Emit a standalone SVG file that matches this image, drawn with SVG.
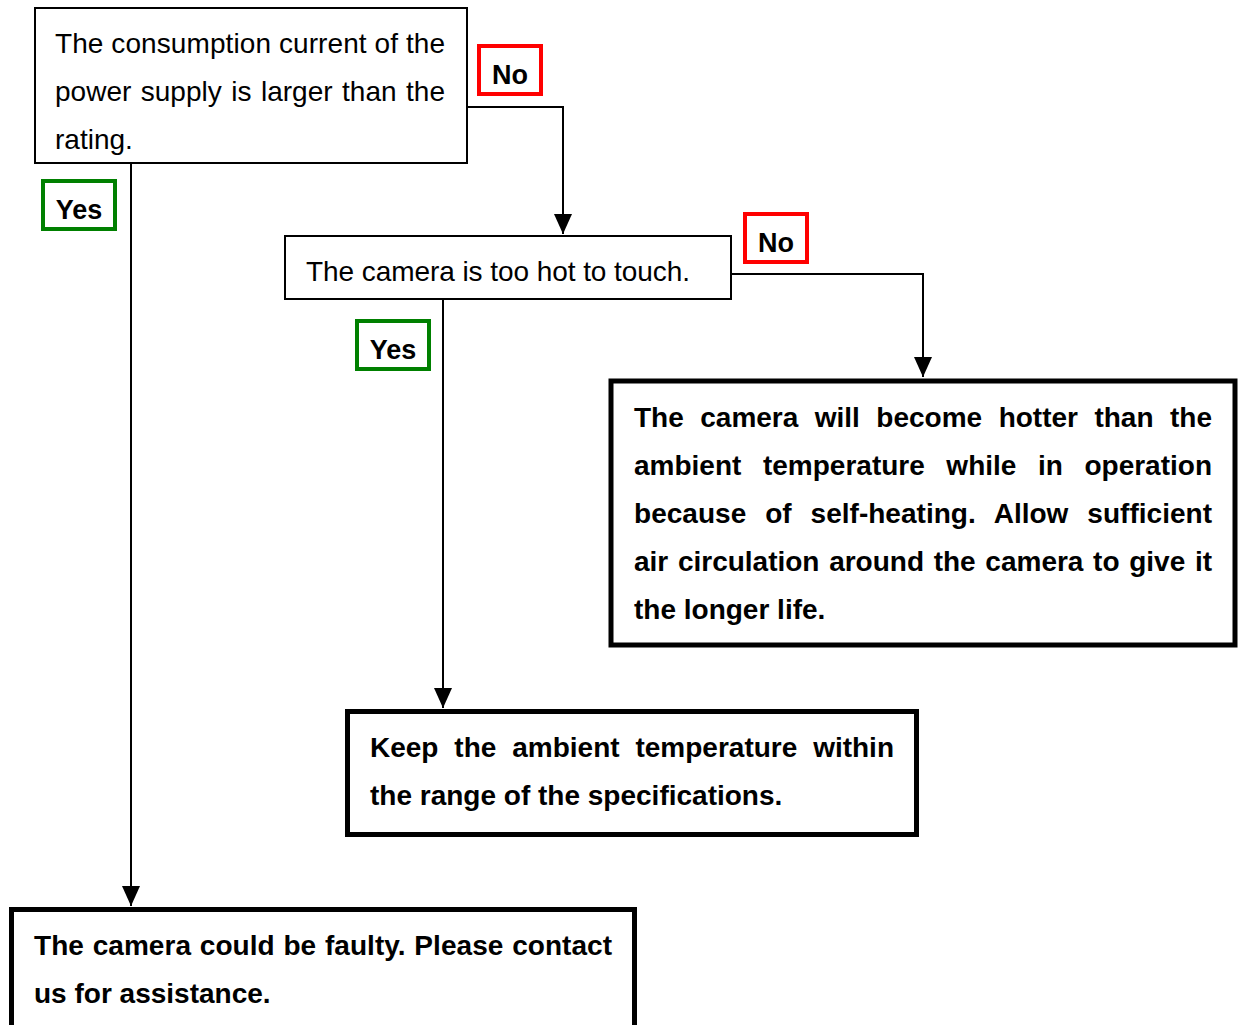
<svg xmlns="http://www.w3.org/2000/svg" width="1243" height="1025" viewBox="0 0 1243 1025">
<style>
.thin{fill:#fff;stroke:#000;stroke-width:2}
.thick{fill:#fff;stroke:#000;stroke-width:5}
.no{fill:#fff;stroke:#f00;stroke-width:4}
.yes{fill:#fff;stroke:#008000;stroke-width:4}
.t{font-family:"Liberation Sans",Arial,sans-serif;font-size:28px;fill:#000}
.b{font-family:"Liberation Sans",Arial,sans-serif;font-size:28px;font-weight:bold;fill:#000}
.lbl{font-family:"Liberation Sans",Arial,sans-serif;font-size:27px;font-weight:bold;fill:#000;text-anchor:middle}
.c{fill:none;stroke:#000;stroke-width:2}
</style>
<defs>
<marker id="arr" markerUnits="userSpaceOnUse" markerWidth="20" markerHeight="22" refX="20" refY="9" orient="auto" viewBox="0 0 20 18">
<path d="M0,0 L20,9 L0,18 Z" fill="#000"/>
</marker>
</defs>
<g id="connectors">
<path class="c" d="M467,107 H563 V234" marker-end="url(#arr)"/>
<path class="c" d="M131,163 V906" marker-end="url(#arr)"/>
<path class="c" d="M731,274 H923 V377" marker-end="url(#arr)"/>
<path class="c" d="M443,299 V708" marker-end="url(#arr)"/>
</g>
<g id="n1">
<rect class="thin" x="35" y="8" width="432" height="155"/>
<text class="t" x="55" y="53" textLength="390" lengthAdjust="spacing">The consumption current of the</text>
<text class="t" x="55" y="101" word-spacing="1.7" textLength="390" lengthAdjust="spacing">power supply is larger than the</text>
<text class="t" x="55" y="149">rating.</text>
</g>
<g id="no1">
<rect class="no" x="479" y="46" width="62" height="48"/>
<text class="lbl" x="510" y="84">No</text>
</g>
<g id="yes1">
<rect class="yes" x="43" y="181" width="72" height="48"/>
<text class="lbl" x="79" y="219">Yes</text>
</g>
<g id="n2">
<rect class="thin" x="285" y="236" width="446" height="63"/>
<text class="t" x="306" y="281" textLength="384" lengthAdjust="spacing">The camera is too hot to touch.</text>
</g>
<g id="no2">
<rect class="no" x="745" y="214" width="62" height="48"/>
<text class="lbl" x="776" y="252">No</text>
</g>
<g id="yes2">
<rect class="yes" x="357" y="321" width="72" height="48"/>
<text class="lbl" x="393" y="359">Yes</text>
</g>
<g id="n3">
<rect class="thick" x="611" y="381" width="624" height="264"/>
<text class="b" x="634" y="427" word-spacing="8.7" textLength="578" lengthAdjust="spacing">The camera will become hotter than the</text>
<text class="b" x="634" y="475" word-spacing="13.8" textLength="578" lengthAdjust="spacing">ambient temperature while in operation</text>
<text class="b" x="634" y="523" word-spacing="11.1" textLength="578" lengthAdjust="spacing">because of self-heating. Allow sufficient</text>
<text class="b" x="634" y="571" word-spacing="1.9" textLength="578" lengthAdjust="spacing">air circulation around the camera to give it</text>
<text class="b" x="634" y="619">the longer life.</text>
</g>
<g id="n4">
<rect class="thick" x="347.5" y="711.5" width="569" height="123"/>
<text class="b" x="370" y="757" word-spacing="8.1" textLength="524" lengthAdjust="spacing">Keep the ambient temperature within</text>
<text class="b" x="370" y="805">the range of the specifications.</text>
</g>
<g id="n5">
<rect class="thick" x="11.5" y="909.5" width="623" height="140"/>
<text class="b" x="34" y="955" word-spacing="0.9" textLength="578" lengthAdjust="spacing">The camera could be faulty. Please contact</text>
<text class="b" x="34" y="1003">us for assistance.</text>
</g>
</svg>
